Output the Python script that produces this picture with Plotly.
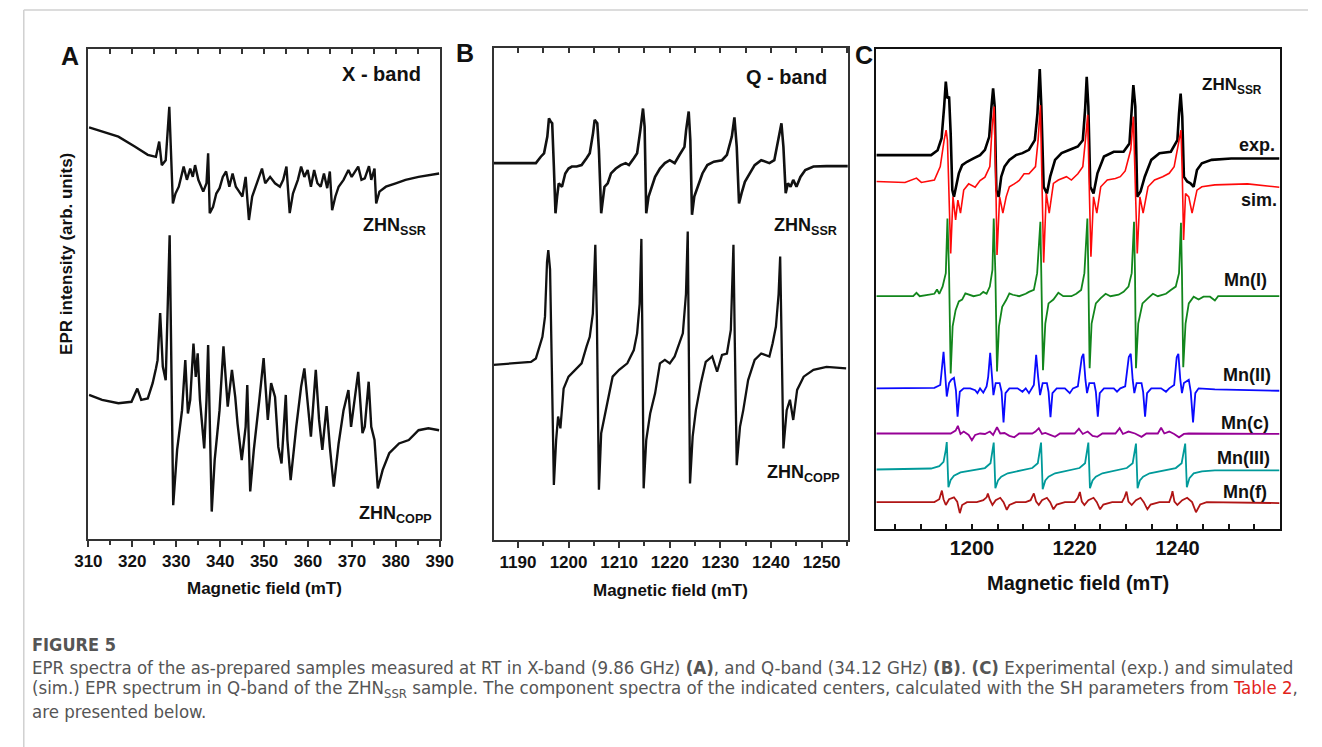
import plotly.graph_objects as go

# ---------------- Panel A : X-band (field in mT, intensity in arb. units) ----------------
a_ssr_field = [310.15, 316.83, 320.55, 323.52, 325.38, 326.12, 326.71, 327.60, 328.42, 329.24, 329.83, 330.58,
               331.69, 332.43, 333.18, 333.77, 334.29, 335.03, 336.15, 336.89, 337.26, 337.63, 338.38, 339.12,
               339.86, 340.60, 341.35, 342.09, 342.83, 343.57, 344.32, 345.06, 345.80, 346.55, 347.29, 348.03,
               349.52, 350.26, 351.37, 352.49, 353.60, 354.35, 355.09, 355.83, 356.57, 357.69, 358.43, 359.17,
               359.92, 360.66, 361.40, 362.14, 362.89, 363.63, 364.37, 364.97, 365.49, 366.23, 366.97, 368.09,
               369.20, 369.94, 370.69, 371.43, 372.17, 372.92, 373.88, 374.40, 375.14, 375.52, 376.26, 377.74,
               379.97, 382.20, 385.17, 387.40, 389.85]
a_ssr_int = [84.0, 82.1, 80.1, 78.4, 78.0, 81.1, 76.3, 77.3, 88.2, 68.5, 70.5, 71.9,
             76.0, 73.3, 75.6, 73.9, 76.3, 73.3, 70.9, 72.6, 78.7, 66.5, 67.8, 70.5,
             71.6, 73.9, 75.0, 71.9, 74.6, 71.9, 70.9, 69.9, 73.9, 65.1, 69.9, 71.9,
             75.6, 72.6, 73.9, 72.6, 71.9, 73.3, 76.0, 66.5, 70.5, 73.3, 76.0, 73.9,
             75.3, 71.9, 75.3, 72.6, 71.9, 74.6, 71.6, 75.0, 67.1, 69.9, 71.9, 73.3,
             75.3, 73.9, 75.0, 76.0, 73.3, 73.6, 76.1, 73.3, 75.6, 68.5, 70.9, 71.9,
             72.6, 73.3, 73.9, 74.3, 74.6]

a_copp_field = [310.15, 313.12, 316.83, 319.81, 321.14, 322.03, 323.52, 324.63, 325.38, 325.75, 326.34, 326.94,
                327.60, 328.50, 329.31, 330.20, 331.32, 332.06, 332.66, 333.18, 333.92, 334.44, 334.88, 335.40,
                336.37, 336.89, 337.26, 338.08, 338.75, 339.86, 340.75, 341.72, 342.68, 343.43, 343.95, 344.91,
                345.80, 346.17, 346.84, 347.66, 348.92, 349.89, 350.85, 351.60, 352.49, 353.23, 353.97, 354.94,
                355.31, 356.05, 357.32, 358.43, 359.17, 359.92, 360.66, 361.77, 362.52, 363.26, 364.23, 364.97,
                365.86, 366.97, 368.09, 369.20, 369.80, 371.43, 372.40, 372.92, 373.81, 374.40, 375.14, 375.89,
                377.00, 378.49, 380.72, 382.94, 385.17, 387.40, 389.85]
a_copp_int = [29.4, 28.4, 27.7, 28.0, 30.7, 28.4, 28.7, 31.8, 34.8, 36.5, 46.1, 35.2,
              32.4, 62.0, 6.9, 18.2, 26.3, 36.5, 25.6, 28.4, 39.9, 33.1, 37.9, 28.4,
              18.5, 28.4, 39.6, 5.6, 16.1, 26.3, 39.3, 27.0, 34.5, 29.0, 23.6, 16.1,
              22.9, 31.4, 9.7, 18.2, 28.4, 36.9, 24.3, 31.8, 29.0, 18.8, 15.4, 29.4,
              20.2, 12.0, 22.9, 31.1, 34.8, 28.4, 20.9, 34.5, 24.3, 18.2, 27.1, 18.8,
              10.7, 19.5, 26.3, 30.4, 22.9, 34.1, 21.6, 22.9, 32.1, 22.9, 20.2, 10.3,
              14.1, 17.5, 19.5, 20.2, 22.2, 22.6, 22.2]

# ---------------- Panel B : Q-band ----------------
b_ssr_field = [1185.16, 1193.55, 1194.52, 1195.16, 1195.81, 1196.13, 1196.52, 1196.77, 1197.10, 1197.42, 1197.74,
               1198.06, 1198.71, 1199.35, 1200.00, 1200.65, 1201.61, 1202.58, 1203.55, 1204.19, 1204.84, 1205.16,
               1205.68, 1206.00, 1206.45, 1206.77, 1207.10, 1207.74, 1208.39, 1209.35, 1210.32, 1211.29, 1211.94,
               1212.90, 1213.55, 1214.19, 1214.71, 1215.03, 1215.35, 1215.81, 1216.45, 1217.10, 1218.06, 1219.03,
               1220.00, 1220.97, 1221.94, 1222.90, 1223.23, 1223.74, 1224.06, 1224.39, 1224.84, 1225.48, 1226.45,
               1227.42, 1228.71, 1230.32, 1231.29, 1232.26, 1232.77, 1233.23, 1233.68, 1234.19, 1234.84, 1235.81,
               1236.77, 1238.06, 1239.68, 1240.65, 1241.61, 1242.06, 1242.45, 1242.90, 1243.35, 1243.87, 1244.39,
               1245.03, 1245.81, 1246.77, 1248.39, 1250.97, 1255.16]
b_ssr_int = [76.6, 76.6, 77.9, 78.6, 82.0, 85.7, 85.0, 84.7, 75.9, 66.4, 69.8,
             72.5, 71.8, 74.5, 75.5, 75.9, 75.9, 76.2, 77.6, 78.6, 82.7, 85.4,
             84.7, 79.3, 66.4, 69.8, 71.8, 72.5, 74.5, 75.5, 76.2, 76.6, 76.2,
             77.6, 78.6, 83.3, 87.7, 84.0, 66.4, 69.8, 71.8, 73.8, 75.5, 76.6,
             77.2, 76.6, 78.3, 79.9, 83.3, 87.1, 81.3, 66.1, 69.8, 71.8, 74.5,
             76.2, 76.9, 77.2, 78.3, 82.0, 85.9, 79.9, 68.4, 70.5, 72.8, 74.5,
             76.2, 77.2, 76.6, 77.2, 82.0, 84.7, 79.9, 70.5, 72.5, 71.8, 73.2,
             71.8, 73.8, 75.2, 75.9, 76.0, 76.0]

b_copp_field = [1185.16, 1189.03, 1192.58, 1193.55, 1194.19, 1194.84, 1195.35, 1195.75, 1196.00, 1196.35, 1196.70,
                1197.10, 1197.55, 1197.94, 1198.39, 1199.03, 1200.00, 1201.29, 1202.58, 1203.55, 1204.19, 1204.80,
                1205.29, 1205.60, 1206.00, 1206.45, 1207.10, 1207.74, 1208.71, 1210.00, 1211.61, 1212.90, 1213.55,
                1214.05, 1214.39, 1214.60, 1214.84, 1215.35, 1216.13, 1217.10, 1218.06, 1219.03, 1220.00, 1220.97,
                1221.94, 1222.58, 1223.20, 1223.55, 1223.75, 1224.00, 1224.52, 1225.16, 1226.13, 1227.10, 1228.39,
                1229.35, 1230.32, 1231.29, 1232.06, 1232.35, 1232.58, 1232.85, 1233.23, 1233.87, 1234.52, 1235.48,
                1236.77, 1238.06, 1239.68, 1240.32, 1240.97, 1241.50, 1241.81, 1242.10, 1242.45, 1243.10, 1243.74,
                1244.39, 1245.16, 1246.45, 1248.39, 1250.97, 1254.84]
b_copp_int = [35.6, 35.9, 36.2, 36.9, 39.3, 41.3, 45.4, 56.5, 58.9, 55.0, 35.0,
              11.2, 20.3, 25.1, 22.7, 30.8, 33.2, 34.6, 35.9, 39.3, 41.3, 46.0,
              60.0, 45.0, 10.2, 21.7, 25.1, 28.5, 33.2, 34.6, 35.9, 38.6, 42.0,
              48.0, 61.2, 40.0, 10.5, 20.3, 25.7, 29.8, 35.9, 36.6, 35.9, 37.3,
              40.0, 42.0, 50.0, 62.7, 40.0, 11.5, 21.0, 26.4, 31.8, 36.2, 37.3,
              34.2, 37.6, 37.9, 42.7, 52.0, 60.0, 40.0, 15.2, 23.0, 26.4, 32.5,
              36.6, 37.9, 37.3, 40.0, 43.4, 50.0, 57.6, 40.0, 18.6, 26.4, 28.5,
              24.4, 30.5, 33.2, 34.6, 35.2, 34.9]

# ---------------- Panel C : Q-band ZHN_SSR, experiment, simulation and components ----------------
c_exp_field = [1181.40, 1192.06, 1193.33, 1194.10, 1194.60, 1194.92, 1195.24, 1195.56, 1195.87, 1196.19, 1196.51,
               1196.83, 1197.46, 1198.10, 1199.05, 1200.32, 1201.59, 1202.54, 1203.37, 1203.81, 1204.13, 1204.44,
               1204.76, 1205.21, 1205.71, 1206.35, 1207.30, 1208.57, 1209.84, 1211.11, 1212.25, 1212.76, 1213.21,
               1213.52, 1213.97, 1214.60, 1215.24, 1216.19, 1217.46, 1219.05, 1220.63, 1221.59, 1222.03, 1222.35,
               1222.67, 1223.05, 1223.68, 1224.44, 1225.71, 1227.62, 1229.52, 1230.67, 1231.11, 1231.43, 1231.81,
               1232.19, 1232.83, 1233.65, 1234.92, 1236.51, 1238.73, 1240.00, 1240.32, 1240.63, 1240.95, 1241.27,
               1241.90, 1242.54, 1243.17, 1243.81, 1244.76, 1246.67, 1250.48, 1259.87]
c_exp_int = [77.9, 77.9, 78.9, 81.4, 88.0, 93.2, 89.7, 90.1, 82.4, 70.6, 69.2,
             70.9, 74.1, 75.8, 76.5, 77.2, 77.9, 79.0, 81.7, 88.0, 91.8, 88.0,
             70.6, 69.2, 73.4, 75.5, 76.9, 77.9, 78.3, 79.0, 81.0, 86.6, 95.8,
             88.0, 71.3, 69.9, 73.4, 76.9, 78.3, 79.0, 79.7, 81.0, 87.3, 94.2,
             88.0, 71.3, 69.9, 74.1, 77.6, 78.6, 78.6, 80.3, 86.6, 92.5, 88.0,
             69.2, 70.3, 73.4, 76.9, 78.3, 78.6, 81.0, 86.6, 90.7, 85.9, 73.4,
             72.4, 72.0, 71.3, 74.8, 76.2, 76.9, 77.2, 77.2]

c_sim_field = [1181.40, 1186.98, 1189.21, 1190.16, 1192.70, 1193.84, 1194.60, 1194.98, 1195.24, 1195.56, 1195.87,
               1196.32, 1196.83, 1197.27, 1197.78, 1198.41, 1199.37, 1200.63, 1201.59, 1202.54, 1203.49, 1203.94,
               1204.32, 1204.63, 1204.89, 1205.40, 1206.03, 1206.67, 1207.30, 1208.25, 1209.21, 1210.16, 1211.11,
               1212.38, 1212.89, 1213.33, 1213.65, 1213.97, 1214.48, 1215.05, 1215.87, 1216.83, 1218.41, 1219.37,
               1220.63, 1221.59, 1222.10, 1222.54, 1222.86, 1223.17, 1223.68, 1224.32, 1225.08, 1226.35, 1227.94,
               1228.89, 1229.84, 1230.92, 1231.43, 1231.81, 1232.19, 1232.70, 1233.33, 1234.29, 1235.56, 1237.14,
               1238.41, 1239.37, 1240.32, 1240.70, 1240.95, 1241.21, 1241.59, 1242.22, 1242.86, 1243.81, 1244.76,
               1247.30, 1253.65, 1259.87]
c_sim_int = [72.4, 72.2, 73.1, 72.2, 72.7, 75.5, 81.0, 83.1, 81.0, 69.2, 57.4,
             69.2, 64.4, 68.5, 65.8, 70.6, 71.9, 71.2, 72.6, 73.3, 75.5, 83.8,
             88.0, 74.1, 57.1, 69.2, 65.8, 69.2, 71.3, 71.9, 72.6, 74.0, 74.0,
             75.5, 81.0, 88.3, 74.1, 55.5, 69.9, 65.8, 72.0, 72.7, 73.4, 72.7,
             74.0, 75.5, 81.0, 86.3, 70.6, 56.7, 69.2, 65.8, 71.3, 72.7, 73.0,
             73.4, 74.6, 79.0, 85.9, 70.6, 57.4, 69.2, 65.8, 71.3, 72.7, 73.4,
             74.1, 75.5, 81.0, 83.1, 74.1, 60.2, 69.9, 69.2, 65.8, 70.6, 71.3,
             71.7, 71.9, 71.2]

c_mn1_field = [1181.40, 1188.57, 1189.21, 1189.84, 1192.70, 1193.21, 1193.65, 1194.29, 1194.92, 1195.24, 1195.56,
               1195.87, 1196.25, 1196.83, 1197.46, 1198.10, 1198.73, 1199.37, 1200.32, 1201.59, 1202.22, 1202.86,
               1203.49, 1204.00, 1204.25, 1204.57, 1204.89, 1205.27, 1205.90, 1206.67, 1207.30, 1207.94, 1209.21,
               1210.48, 1211.11, 1212.06, 1212.70, 1213.33, 1213.52, 1213.84, 1214.29, 1214.92, 1215.87, 1216.83,
               1217.78, 1219.37, 1220.32, 1221.27, 1221.90, 1222.48, 1222.67, 1222.92, 1223.30, 1224.13, 1225.08,
               1226.03, 1226.98, 1228.57, 1229.52, 1230.48, 1231.11, 1231.56, 1231.75, 1231.94, 1232.38, 1233.21,
               1234.29, 1235.24, 1236.19, 1237.78, 1238.73, 1239.68, 1240.32, 1240.70, 1240.89, 1241.14, 1241.59,
               1242.22, 1243.17, 1244.13, 1245.08, 1246.35, 1247.30, 1247.94, 1259.87]
c_mn1_int = [48.5, 48.5, 49.2, 48.5, 49.0, 49.9, 49.0, 50.5, 53.3, 64.7, 53.3,
             32.4, 42.2, 45.6, 47.4, 47.8, 49.1, 48.8, 48.5, 48.8, 49.4, 49.0,
             50.5, 54.0, 64.7, 53.3, 32.8, 42.2, 46.3, 47.7, 49.1, 48.8, 48.5,
             49.0, 49.4, 49.8, 53.3, 64.0, 53.3, 33.1, 42.8, 47.0, 47.8, 49.2,
             48.5, 48.5, 49.0, 49.8, 53.3, 64.7, 53.3, 33.5, 42.8, 47.0, 48.1,
             49.0, 48.5, 48.8, 49.4, 50.5, 53.3, 64.0, 53.3, 33.5, 42.8, 47.0,
             48.1, 49.0, 48.5, 49.0, 49.8, 50.5, 53.3, 63.8, 53.3, 33.7, 42.8,
             47.0, 48.4, 47.8, 48.4, 48.4, 47.6, 48.5, 48.5]

c_mn2_field = [1181.40, 1192.70, 1193.84, 1194.48, 1194.79, 1195.11, 1195.56, 1196.00, 1196.51, 1196.89, 1197.21,
               1197.65, 1198.41, 1199.68, 1200.63, 1201.08, 1201.59, 1202.22, 1202.86, 1203.17, 1203.56, 1203.94,
               1204.19, 1204.63, 1205.40, 1205.78, 1206.16, 1206.54, 1207.30, 1208.89, 1209.84, 1210.48, 1211.11,
               1212.06, 1212.51, 1212.89, 1213.27, 1213.78, 1214.60, 1214.92, 1215.30, 1215.68, 1216.51, 1218.10,
               1219.05, 1219.68, 1220.63, 1221.40, 1221.71, 1222.10, 1222.41, 1222.86, 1223.81, 1224.13, 1224.51,
               1224.89, 1225.71, 1227.62, 1228.25, 1228.89, 1229.84, 1230.54, 1230.92, 1231.30, 1231.62, 1232.06,
               1233.02, 1233.33, 1233.71, 1234.10, 1234.92, 1236.83, 1237.78, 1238.41, 1239.37, 1239.87, 1240.19,
               1240.57, 1240.89, 1241.27, 1242.22, 1242.60, 1243.05, 1243.49, 1244.13, 1247.30, 1259.87]
c_mn2_int = [29.3, 29.4, 30.0, 36.9, 32.4, 27.6, 30.4, 31.1, 31.5, 28.9, 23.4,
             28.6, 29.3, 29.3, 28.9, 28.3, 29.3, 28.4, 29.7, 31.7, 36.7, 31.1,
             27.9, 30.4, 30.4, 28.6, 22.2, 28.3, 29.3, 29.3, 28.6, 29.3, 28.3,
             30.0, 36.3, 31.7, 27.9, 30.4, 30.4, 28.6, 23.3, 28.3, 29.3, 29.3,
             28.3, 29.3, 29.7, 35.8, 36.5, 31.1, 28.3, 30.4, 30.4, 28.6, 23.4,
             28.3, 29.3, 29.3, 28.6, 29.3, 29.7, 35.8, 36.5, 31.1, 28.3, 30.4,
             30.4, 28.6, 23.4, 28.3, 29.3, 29.3, 28.6, 29.3, 30.0, 35.8, 36.5,
             31.1, 28.3, 30.4, 31.1, 28.6, 22.2, 28.3, 29.3, 29.1, 28.8]

c_mnc_field = [1181.40, 1195.87, 1196.83, 1197.27, 1197.78, 1198.41, 1199.37, 1200.00, 1200.63, 1201.59, 1202.54,
               1203.49, 1204.13, 1204.89, 1205.52, 1206.35, 1207.30, 1208.25, 1209.21, 1211.75, 1212.38, 1213.02,
               1213.65, 1214.29, 1215.24, 1216.19, 1217.14, 1220.00, 1220.83, 1221.59, 1222.54, 1223.49, 1224.44,
               1225.40, 1227.94, 1228.76, 1229.40, 1230.48, 1231.75, 1233.02, 1233.97, 1236.19, 1236.83, 1237.46,
               1238.41, 1239.37, 1240.32, 1241.27, 1242.22, 1259.87]
c_mnc_int = [19.9, 19.9, 20.5, 21.5, 19.8, 20.3, 19.6, 18.5, 19.6, 19.9, 19.8,
             20.3, 19.6, 21.2, 19.9, 20.0, 19.4, 19.1, 19.9, 19.9, 20.3, 21.0,
             19.8, 20.0, 19.6, 19.2, 19.9, 19.9, 20.9, 19.8, 20.3, 19.4, 19.2,
             19.9, 19.9, 21.0, 19.8, 20.3, 19.9, 19.2, 19.9, 19.9, 21.1, 19.9,
             20.3, 19.8, 19.1, 19.8, 19.9, 19.8]

c_mn3_field = [1181.40, 1192.06, 1193.65, 1194.48, 1194.92, 1195.11, 1195.24, 1195.43, 1195.87, 1196.51, 1197.78,
               1200.32, 1202.54, 1203.62, 1204.06, 1204.25, 1204.38, 1204.57, 1205.08, 1205.71, 1206.98, 1209.52,
               1211.75, 1212.83, 1213.27, 1213.46, 1213.59, 1213.78, 1214.29, 1214.92, 1216.19, 1218.73, 1220.95,
               1222.03, 1222.48, 1222.67, 1222.79, 1222.98, 1223.49, 1224.13, 1225.40, 1227.94, 1230.16, 1231.30,
               1231.75, 1231.94, 1232.06, 1232.25, 1232.70, 1233.33, 1234.60, 1237.14, 1239.68, 1240.83, 1241.27,
               1241.52, 1241.65, 1241.84, 1242.35, 1243.17, 1244.76, 1247.30, 1259.87]
c_mn3_int = [12.4, 12.6, 13.1, 14.0, 16.5, 18.1, 14.4, 8.7, 10.2, 11.1, 11.8,
             12.2, 12.7, 13.7, 16.2, 18.0, 14.4, 8.5, 10.1, 10.9, 11.6, 12.2,
             12.7, 13.7, 16.2, 18.0, 14.4, 8.3, 10.1, 10.9, 11.6, 12.2, 12.7,
             13.7, 16.2, 18.0, 14.4, 8.5, 10.1, 10.9, 11.6, 12.2, 12.7, 13.7,
             16.2, 17.8, 14.4, 8.5, 10.1, 10.9, 11.6, 12.2, 12.7, 13.7, 16.2,
             17.8, 14.4, 8.7, 10.6, 11.6, 12.0, 12.2, 12.2]

c_mnf_field = [1181.40, 1192.70, 1193.65, 1194.16, 1194.48, 1194.92, 1195.56, 1196.51, 1197.14, 1197.65, 1198.10,
               1199.05, 1200.95, 1202.22, 1202.86, 1203.11, 1203.49, 1204.00, 1204.63, 1205.52, 1206.16, 1206.79,
               1207.30, 1208.57, 1210.48, 1211.43, 1212.06, 1212.51, 1213.02, 1213.65, 1214.60, 1215.24, 1215.87,
               1216.51, 1218.10, 1220.00, 1220.63, 1221.02, 1221.40, 1221.90, 1222.67, 1223.68, 1224.32, 1224.95,
               1225.59, 1227.30, 1229.21, 1229.71, 1230.10, 1230.48, 1231.11, 1231.94, 1232.83, 1233.46, 1234.16,
               1234.79, 1236.51, 1238.41, 1238.79, 1239.05, 1239.43, 1240.00, 1240.95, 1241.90, 1242.86, 1243.62,
               1244.44, 1245.71, 1259.87]
c_mnf_int = [5.6, 5.6, 6.2, 8.0, 6.2, 5.0, 6.2, 6.6, 5.7, 3.3, 5.0,
             5.6, 5.6, 6.0, 6.6, 7.4, 6.1, 5.0, 6.0, 6.5, 5.6, 4.0,
             5.0, 5.6, 5.6, 6.0, 7.4, 5.7, 5.0, 6.0, 6.5, 5.6, 4.1,
             5.1, 5.6, 5.6, 6.5, 7.7, 5.7, 5.0, 6.0, 6.5, 5.6, 4.1,
             5.1, 5.6, 5.6, 6.6, 7.8, 5.7, 5.0, 6.0, 6.5, 5.6, 4.1,
             5.1, 5.6, 5.6, 6.7, 7.9, 5.7, 5.0, 6.0, 6.5, 5.6, 3.5,
             5.1, 5.6, 5.4]

# ---------------- text ----------------
panel_letters = ["A", "B", "C"]
band_labels = ["X - band", "Q - band"]
sample_labels = ["ZHN<sub>SSR</sub>", "ZHN<sub>COPP</sub>"]
c_labels = ["ZHN<sub>SSR</sub>", "exp.", "sim.", "Mn(I)", "Mn(II)", "Mn(c)", "Mn(III)", "Mn(f)"]
x_title = "Magnetic field (mT)"
y_title = "EPR intensity (arb. units)"
caption_head = "FIGURE 5"
caption_lines = [
    "EPR spectra of the as-prepared samples measured at RT in X-band (9.86 GHz) <b>(A)</b>, and Q-band (34.12 GHz) <b>(B)</b>. <b>(C)</b> Experimental (exp.) and simulated",
    "(sim.) EPR spectrum in Q-band of the ZHN<sub>SSR</sub> sample. The component spectra of the indicated centers, calculated with the SH parameters from <span style='color:#e2231a'>Table 2</span>,",
    "are presented below.",
]

FONT = "Liberation Sans, Arial, sans-serif"
CAPFONT = "Liberation Sans Narrow, DejaVu Sans Condensed, Roboto Condensed, DejaVu Sans, sans-serif"
W, H = 1322, 747

def px(x):
    return x / W

def py(y):
    return 1 - y / H

fig = go.Figure()

def add(xs, ys, color, width, xa, ya):
    fig.add_trace(go.Scatter(x=xs, y=ys, mode="lines", line=dict(color=color, width=width),
                             xaxis=xa, yaxis=ya, showlegend=False, hoverinfo="x+y"))

add(a_ssr_field, a_ssr_int, "#111111", 2.4, "x", "y")
add(a_copp_field, a_copp_int, "#111111", 2.4, "x", "y")
add(b_ssr_field, b_ssr_int, "#111111", 2.6, "x2", "y2")
add(b_copp_field, b_copp_int, "#111111", 2.3, "x2", "y2")

add(c_mnf_field, c_mnf_int, "#b01515", 1.8, "x3", "y3")
add(c_mn3_field, c_mn3_int, "#009a9a", 1.8, "x3", "y3")
add(c_mnc_field, c_mnc_int, "#960096", 1.8, "x3", "y3")
add(c_mn2_field, c_mn2_int, "#0a0aff", 1.8, "x3", "y3")
add(c_mn1_field, c_mn1_int, "#12861c", 1.8, "x3", "y3")
add(c_exp_field, c_exp_int, "#000000", 2.6, "x3", "y3")
add(c_sim_field, c_sim_int, "#ff0a0a", 1.6, "x3", "y3")

# invisible traces so that the top tick axes are drawn
fig.add_trace(go.Scatter(x=[], y=[], xaxis="x4", yaxis="y", showlegend=False))
fig.add_trace(go.Scatter(x=[], y=[], xaxis="x5", yaxis="y2", showlegend=False))

tickfont_ab = dict(family=FONT, size=17, color="#111111", weight="bold")
tickfont_c = dict(family=FONT, size=20, color="#111111", weight="bold")

common_x = dict(showgrid=False, zeroline=False, showline=True, mirror=True, linecolor="#333333",
                linewidth=1.6, ticks="outside", ticklen=6, tickwidth=1.5, tickcolor="#333333")
common_y = dict(showgrid=False, zeroline=False, showline=True, mirror=True, linecolor="#333333",
                linewidth=1.6, ticks="", showticklabels=False, range=[0, 100], fixedrange=True)

A_dom_x = [px(76), px(435)]
B_dom_x = [px(490), px(852)]
C_dom_x = [px(881), px(1293)]

fig.update_layout(
    autosize=True, margin=dict(l=0, r=0, t=0, b=0, pad=0),
    paper_bgcolor="white", plot_bgcolor="white", showlegend=False,
    xaxis=dict(common_x, domain=A_dom_x, anchor="y", range=[310, 390], tick0=310, dtick=10,
               tickfont=tickfont_ab, minor=dict(dtick=5, ticks="outside", ticklen=4, tickwidth=1.5, tickcolor="#333333")),
    yaxis=dict(common_y, domain=[py(539), py(49)], anchor="x"),
    xaxis4=dict(overlaying="x", anchor="y", side="top", range=[310, 390], tick0=310, dtick=5,
                ticks="inside", ticklen=5, tickwidth=1.5, tickcolor="#333333", showticklabels=False,
                showgrid=False, zeroline=False, showline=False),
    xaxis2=dict(common_x, domain=B_dom_x, anchor="y2", range=[1185.2, 1255.2], tick0=1190, dtick=10,
                tickfont=tickfont_ab, minor=dict(dtick=5, ticks="outside", ticklen=4, tickwidth=1.5, tickcolor="#333333")),
    yaxis2=dict(common_y, domain=[py(540), py(48)], anchor="x2"),
    xaxis5=dict(overlaying="x2", anchor="y2", side="top", range=[1185.2, 1255.2], tick0=1190, dtick=5,
                ticks="inside", ticklen=5, tickwidth=1.5, tickcolor="#333333", showticklabels=False,
                showgrid=False, zeroline=False, showline=False),
    xaxis3=dict(showgrid=False, zeroline=False, showline=True, mirror=True, linecolor="#111111", linewidth=2,
                domain=C_dom_x, anchor="y3", range=[1181.4, 1259.9], tick0=1200, dtick=20,
                ticks="inside", ticklen=5, tickwidth=1.5, tickcolor="#111111", tickfont=tickfont_c,
                minor=dict(dtick=5, ticks="inside", ticklen=5, tickwidth=1.5, tickcolor="#111111")),
    yaxis3=dict(common_y, domain=[py(529), py(49)], anchor="x3", linecolor="#111111", linewidth=2),
)

ann = []

def lab(text, x, y, size, xanchor="right", angle=0, color="#111111", family=FONT):
    ann.append(dict(text=text, x=px(x), y=py(y), xref="paper", yref="paper", xanchor=xanchor,
                    yanchor="middle", showarrow=False, textangle=angle,
                    font=dict(family=family, size=size, color=color)))

# panel letters
lab("<b>" + panel_letters[0] + "</b>", 57, 56, 25, "center")
lab("<b>" + panel_letters[1] + "</b>", 461, 53, 25, "center")
lab("<b>" + panel_letters[2] + "</b>", 868, 55, 25, "center")

# panel A / B labels
lab("<b>" + band_labels[0] + "</b>", 418, 74, 20)
lab("<b>" + sample_labels[0] + "</b>", 423, 226, 18)
lab("<b>" + sample_labels[1] + "</b>", 429, 514, 18)
lab("<b>" + band_labels[1] + "</b>", 833, 77, 20)
lab("<b>" + sample_labels[0] + "</b>", 843, 226, 18)
lab("<b>" + sample_labels[1] + "</b>", 846, 473, 18)

# panel C labels
c_label_pos = [(1277, 86), (1290, 145), (1292, 200), (1282, 280), (1286, 375), (1284, 423), (1285, 458), (1282, 492)]
for t, (x, y) in zip(c_labels, c_label_pos):
    lab("<b>" + t + "</b>", x, y, 18 if t != c_labels[0] else 17)

# axis titles
lab("<b>" + x_title + "</b>", 255.5, 588, 17, "center")
lab("<b>" + x_title + "</b>", 671, 590, 17, "center")
lab("<b>" + x_title + "</b>", 1087, 583, 20, "center")
lab("<b>" + y_title + "</b>", 53, 254, 17, "center", angle=-90)

# caption
ann.append(dict(text="<b>" + caption_head + "</b>", x=px(16), y=py(644), xref="paper", yref="paper",
                xanchor="left", yanchor="middle", showarrow=False,
                font=dict(family=CAPFONT, size=18, color="#555555")))
for i, line in enumerate(caption_lines):
    ann.append(dict(text=line, x=px(16), y=py(667 + 22 * i), xref="paper", yref="paper",
                    xanchor="left", yanchor="middle", showarrow=False,
                    font=dict(family=CAPFONT, size=18.5, color="#555555")))

fig.update_layout(annotations=ann)

# outer light frame of the figure page
fig.update_layout(shapes=[
    dict(type="line", xref="paper", yref="paper", x0=px(10), x1=1, y0=py(10), y1=py(10),
         line=dict(color="#d0d0d0", width=1.5)),
    dict(type="line", xref="paper", yref="paper", x0=px(10), x1=px(10), y0=py(10), y1=0,
         line=dict(color="#d0d0d0", width=1.5)),
])

post = ("document.documentElement.style.margin='0';document.body.style.margin='0';"
        "document.body.style.padding='0';document.body.style.overflow='hidden';"
        "document.documentElement.style.overflow='hidden';"
        "var gd=document.getElementById('{plot_id}');gd.style.width='100vw';gd.style.height='100vh';"
        "Plotly.Plots.resize(gd);")

fig.write_html("out.html", config={"displayModeBar": False, "responsive": True},
               default_width="100vw", default_height="100vh", post_script=post)
